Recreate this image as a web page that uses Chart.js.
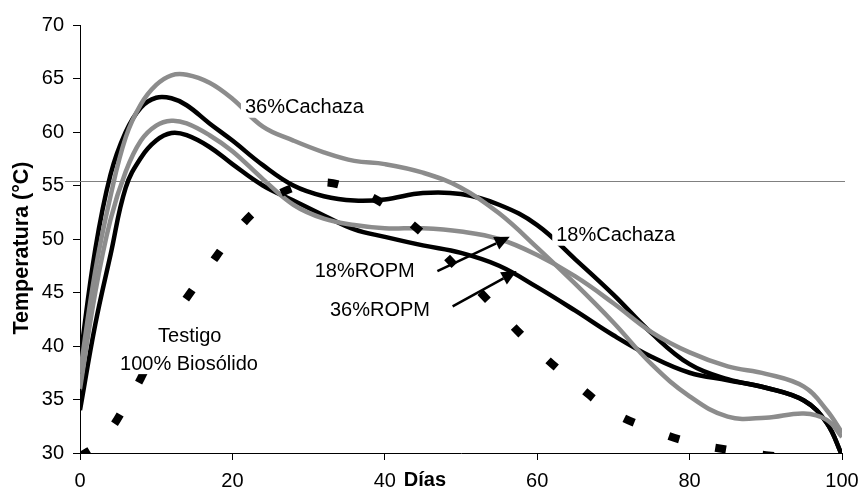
<!DOCTYPE html>
<html>
<head>
<meta charset="utf-8">
<script src="https://cdn.jsdelivr.net/npm/chart.js@4.4.1/dist/chart.umd.min.js"></script>
<style>
  html, body { margin: 0; padding: 0; background: #fff; }
  #wrap { width: 859px; height: 490px; }
</style>
</head>
<body>
<div id="wrap"><canvas id="tempChart" width="859" height="490"></canvas></div>
<script>
// Temperature (°C) by day for each compost mix
const days        = [0, 2, 4, 6, 8, 10, 12, 14, 17, 20, 24, 28, 32, 36, 40, 45, 50, 55, 60, 65, 70, 75, 80, 85, 90, 95, 98, 100];
const cachaza18   = [38.7, 49, 56, 60, 62.3, 63.2, 63.15, 62.5, 60.8, 59.2, 56.9, 55, 54, 53.6, 53.7, 54.3, 54.2, 53.2, 51.3, 48.1, 44.8, 41.2, 38.3, 36.9, 36.1, 34.9, 32.8, 29.8];
const cachaza36   = [37.5, 47, 54, 59.5, 62.6, 64.4, 65.3, 65.35, 64.6, 63.1, 60.5, 59.2, 58.1, 57.3, 57, 56.2, 54.8, 52.4, 49.2, 45.8, 42.2, 38.3, 35.3, 33.4, 33.3, 33.7, 33.1, 31.5];
const ropm18      = [36, 45, 51.8, 56.3, 59.2, 60.6, 61.05, 60.8, 59.7, 58.2, 55.6, 53.2, 51.9, 51.3, 51, 51, 50.7, 50, 48.5, 46.5, 44, 41.3, 39.4, 38.1, 37.4, 36.2, 34, 31.9];
const ropm36      = [34, 42, 48.5, 54.8, 57.6, 59.2, 59.9, 59.7, 58.6, 57, 55, 53.6, 52.2, 50.9, 50.2, 49.4, 48.7, 47.5, 45.5, 43.3, 41, 39, 37.5, 36.8, 36.1, 34.9, 32.8, 29.8];
const testigo     = [29.7, 30.6, 32.2, 34.5, 37, 40, 42.5, 44.5, 47.5, 50.3, 53.2, 54.8, 55.3, 54.6, 53.2, 50.5, 46.9, 43.2, 39.6, 36.5, 33.8, 32.2, 31, 30.3, 29.8, 29.5, 29.4, 29.3];
const refLine     = 55.45;
const yTicks      = [30, 35, 40, 45, 50, 55, 60, 65, 70];
const xTicks      = [0, 20, 40, 60, 80, 100];

const FONT = "'Liberation Sans', Arial, Helvetica, sans-serif";
const GRAY = '#8c8c8c';
const FONT_SIZE = 20;

function toPoints(values) {
    return days.map((d, i) => ({ x: d, y: values[i] }));
}

function lineSet(label, values, color, order) {
    return {
        label: label,
        data: toPoints(values),
        borderColor: color,
        borderWidth: 4.5,
        pointRadius: 0,
        fill: false,
        tension: 0.4,
        order: order
    };
}

// Text labels drawn on white boxes and the two arrows, in data coordinates
const notes = [
    { text: '36%Cachaza', x: 21.65, y: 62.36, align: 'left' },
    { text: '18%Cachaza', x: 62.5, y: 50.4, align: 'left' },
    { text: '18%ROPM', x: 30.8, y: 47.1, align: 'left' },
    { text: '36%ROPM', x: 32.8, y: 43.4, align: 'left' },
    { text: 'Testigo', x: 14.4, y: 41.0, align: 'center' },
    { text: '100% Biosólido', x: 14.3, y: 38.4, align: 'center' }
];
const arrows = [
    { from: [46.9, 47.0], to: [56.4, 50.2] },
    { from: [48.9, 43.7], to: [57.3, 47.0] }
];

function drawArrow(ctx, x1, y1, x2, y2) {
    const ang = Math.atan2(y2 - y1, x2 - x1);
    const head = 15, half = 7;
    const bx = x2 - head * Math.cos(ang), by = y2 - head * Math.sin(ang);
    ctx.strokeStyle = '#000';
    ctx.lineWidth = 2.5;
    ctx.beginPath();
    ctx.moveTo(x1, y1);
    ctx.lineTo(bx, by);
    ctx.stroke();
    ctx.fillStyle = '#000';
    ctx.beginPath();
    ctx.moveTo(x2, y2);
    ctx.lineTo(bx + half * Math.sin(ang), by - half * Math.cos(ang));
    ctx.lineTo(bx - half * Math.sin(ang), by + half * Math.cos(ang));
    ctx.closePath();
    ctx.fill();
}

const decorations = {
    id: 'decorations',
    beforeDatasetsDraw(chart) {
        const { ctx, chartArea, scales } = chart;
        const y = Math.round(scales.y.getPixelForValue(refLine)) + 0.5;
        ctx.save();
        ctx.strokeStyle = '#808080';
        ctx.lineWidth = 1;
        ctx.beginPath();
        ctx.moveTo(chartArea.left - 15, y);
        ctx.lineTo(chartArea.right + 3, y);
        ctx.stroke();
        ctx.restore();
    },
    afterDatasetsDraw(chart) {
        const { ctx, scales } = chart;
        ctx.save();
        ctx.font = FONT_SIZE + 'px ' + FONT;
        ctx.textBaseline = 'middle';
        notes.forEach(n => {
            const px = scales.x.getPixelForValue(n.x);
            const py = scales.y.getPixelForValue(n.y);
            const w = ctx.measureText(n.text).width;
            const left = n.align === 'center' ? px - w / 2 : px;
            ctx.fillStyle = '#fff';
            ctx.fillRect(left - 4, py - 11, w + 8, 22);
            ctx.fillStyle = '#000';
            ctx.textAlign = n.align;
            ctx.fillText(n.text, px, py + 1);
        });
        arrows.forEach(a => {
            drawArrow(ctx,
                scales.x.getPixelForValue(a.from[0]), scales.y.getPixelForValue(a.from[1]),
                scales.x.getPixelForValue(a.to[0]), scales.y.getPixelForValue(a.to[1]));
        });
        ctx.restore();
    },
    afterDraw(chart) {
        const { ctx, chartArea, scales } = chart;
        ctx.save();
        ctx.fillStyle = '#000';
        // x axis title sits on the tick label row, right after "40"
        ctx.font = 'bold ' + FONT_SIZE + 'px ' + FONT;
        ctx.textAlign = 'left';
        ctx.textBaseline = 'middle';
        ctx.fillText('Días', scales.x.getPixelForValue(40) + 19, chartArea.bottom + 27);
        // y axis title
        ctx.font = 'bold 21.5px ' + FONT;
        ctx.translate(22, 248);
        ctx.rotate(-Math.PI / 2);
        ctx.textAlign = 'center';
        ctx.fillText('Temperatura (°C)', 0, 0);
        ctx.restore();
    }
};

const config = {
    type: 'line',
    data: {
        datasets: [
            Object.assign(lineSet('Testigo 100% Biosólido', testigo, '#000', 0), {
                borderWidth: 8,
                borderDash: [11, 37],
                borderCapStyle: 'butt'
            }),
            lineSet('36%Cachaza', cachaza36, GRAY, 1),
            lineSet('18%ROPM', ropm18, GRAY, 1),
            lineSet('18%Cachaza', cachaza18, '#000', 2),
            lineSet('36%ROPM', ropm36, '#000', 2)
        ]
    },
    options: {
        responsive: false,
        animation: false,
        devicePixelRatio: 1,
        layout: { padding: { left: 0, right: 17, top: 25, bottom: 0 } },
        plugins: {
            legend: { display: false },
            tooltip: { enabled: false }
        },
        scales: {
            x: {
                type: 'linear',
                min: 0,
                max: 100,
                afterFit: scale => {
                    scale.height = 37;
                    scale.paddingLeft = 0;
                    scale.paddingRight = 0;
                },
                afterBuildTicks: scale => { scale.ticks = xTicks.map(v => ({ value: v })); },
                ticks: {
                    color: '#000',
                    padding: 9,
                    font: { family: FONT, size: FONT_SIZE },
                    maxRotation: 0
                },
                grid: { display: true, drawOnChartArea: false, drawTicks: true, tickLength: 7, color: '#000' },
                border: { display: true, color: '#000', width: 1 }
            },
            y: {
                type: 'linear',
                min: 30,
                max: 70,
                afterFit: scale => { scale.width = 80; },
                afterBuildTicks: scale => { scale.ticks = yTicks.map(v => ({ value: v })); },
                ticks: {
                    color: '#000',
                    padding: 9,
                    font: { family: FONT, size: FONT_SIZE }
                },
                grid: { display: true, drawOnChartArea: false, drawTicks: true, tickLength: 7, color: '#000' },
                border: { display: true, color: '#000', width: 1 }
            }
        }
    },
    plugins: [decorations]
};

new Chart(document.getElementById('tempChart').getContext('2d'), config);
</script>
</body>
</html>
